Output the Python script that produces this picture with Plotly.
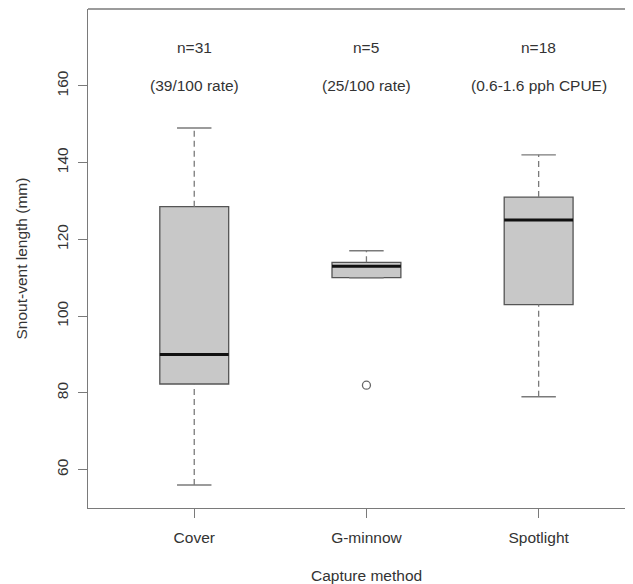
import plotly.graph_objects as go

# ---- data ----
categories = ["Cover", "G-minnow", "Spotlight"]
positions = [1, 2, 3]
whisker_low = [56, 110, 79]
q1 = [82.3, 110, 103]
median = [90, 113, 125]
q3 = [128.5, 114, 131]
whisker_high = [149, 117, 142]
outlier_pos = [2]
outlier_val = [82]
n_labels = ["n=31", "n=5", "n=18"]
rate_labels = ["(39/100 rate)", "(25/100 rate)", "(0.6-1.6 pph CPUE)"]
y_ticks = [60, 80, 100, 120, 140, 160]

# ---- style ----
FONT = "Liberation Sans, Arial, sans-serif"
TXT = "#333333"
LINE = "#7a7a7a"
BOXW = 0.4
CAPW = 0.2
FS = 15.5

fig = go.Figure()

# boxes (whiskers drawn separately as dashed lines)
fig.add_trace(go.Box(
    x=positions, q1=q1, median=median, q3=q3,
    lowerfence=q1, upperfence=q3,
    width=BOXW, whiskerwidth=0,
    fillcolor="#c8c8c8",
    line=dict(color="#555555", width=1.3),
    boxpoints=False, showlegend=False, hoverinfo="skip",
))

# dashed whiskers and staples
for p, lo, a, b, hi in zip(positions, whisker_low, q1, q3, whisker_high):
    for y0, y1 in ((lo, a), (b, hi)):
        fig.add_trace(go.Scatter(
            x=[p, p], y=[y0, y1], mode="lines",
            line=dict(color=LINE, width=1.3, dash="6px,4px"),
            showlegend=False, hoverinfo="skip"))
    for yv in (lo, hi):
        fig.add_trace(go.Scatter(
            x=[p - CAPW / 2, p + CAPW / 2], y=[yv, yv], mode="lines",
            line=dict(color=LINE, width=1.4),
            showlegend=False, hoverinfo="skip"))

# thick medians
for p, m in zip(positions, median):
    fig.add_trace(go.Scatter(
        x=[p - BOXW / 2, p + BOXW / 2], y=[m, m], mode="lines",
        line=dict(color="#111111", width=3),
        showlegend=False, hoverinfo="skip"))

# outlier
fig.add_trace(go.Scatter(
    x=outlier_pos, y=outlier_val, mode="markers",
    marker=dict(symbol="circle-open", size=8, color="#666666",
                line=dict(width=1.3, color="#666666")),
    showlegend=False, hoverinfo="skip"))

annotations = []
for p, t1, t2 in zip(positions, n_labels, rate_labels):
    annotations.append(dict(x=p, y=170, xref="x", yref="y", text=t1,
                            showarrow=False, font=dict(size=FS, color=TXT, family=FONT)))
    annotations.append(dict(x=p, y=160, xref="x", yref="y", text=t2,
                            showarrow=False, font=dict(size=FS, color=TXT, family=FONT)))

annotations.append(dict(x=-0.1229, y=0.5, xref="paper", yref="paper",
                        text="Snout-vent length (mm)", textangle=-90, showarrow=False,
                        xanchor="center", yanchor="middle",
                        font=dict(size=FS, color=TXT, family=FONT)))
annotations.append(dict(x=2, y=-0.1357, xref="x", yref="paper",
                        text="Capture method", showarrow=False,
                        xanchor="center", yanchor="middle",
                        font=dict(size=FS, color=TXT, family=FONT)))

# page body has an 8px margin; figure sized so the plot lands where the reference has it
fig.update_layout(
    width=625, height=576,
    margin=dict(l=80, r=0, t=1, b=76, pad=0),
    paper_bgcolor="white", plot_bgcolor="white",
    font=dict(family=FONT, size=FS, color=TXT),
    boxmode="overlay",
    annotations=annotations,
    shapes=[dict(type="line", xref="paper", yref="paper", x0=0, x1=1, y0=1, y1=1,
                 line=dict(color=LINE, width=1.4))],
    xaxis=dict(range=[0.383, 3.548], tickvals=positions, ticktext=categories,
               showgrid=False, zeroline=False, showline=True, linecolor=LINE, linewidth=1.4,
               ticks="outside", ticklen=9, tickcolor=LINE, tickwidth=1.2,
               ticklabelstandoff=6,
               tickfont=dict(size=FS, color=TXT, family=FONT)),
    yaxis=dict(range=[50, 180], tickvals=y_ticks,
               showgrid=False, zeroline=False, showline=True, linecolor=LINE, linewidth=1.4,
               ticks="outside", ticklen=9, tickcolor=LINE, tickwidth=1.2,
               tickangle=-90, ticklabelstandoff=4,
               tickfont=dict(size=FS, color=TXT, family=FONT)),
)

fig.write_html("out.html")
